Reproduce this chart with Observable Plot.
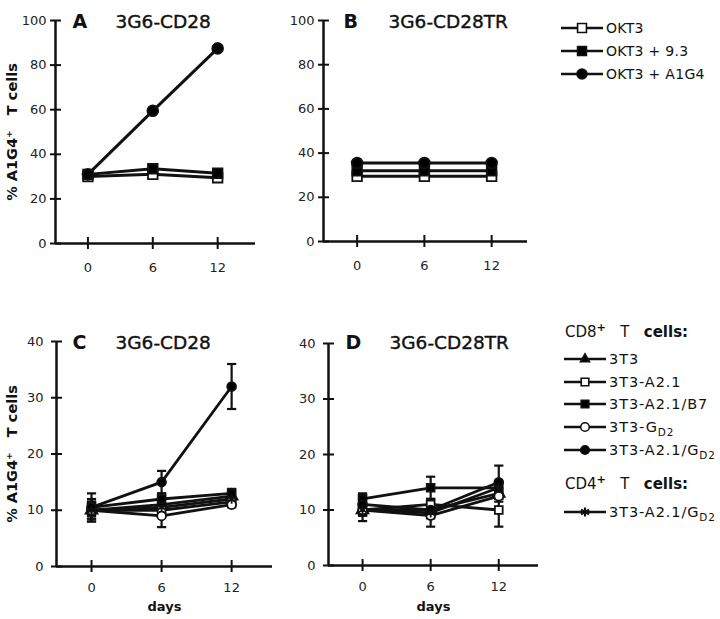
<!DOCTYPE html>
<html><head><meta charset="utf-8">
<script src="https://cdn.jsdelivr.net/npm/d3@7"></script>
<script src="https://cdn.jsdelivr.net/npm/@observablehq/plot@0.6"></script>
<style>
body{margin:0;background:#fff;}
#root{position:relative;width:720px;height:619px;overflow:hidden;font-family:"DejaVu Sans",sans-serif;color:#111;}
.panel{position:absolute;}
.lg{position:absolute;display:flex;align-items:center;white-space:nowrap;color:#111;}
.lg svg{flex:none;}
.lg sub{font-size:0.72em;vertical-align:-0.35em;line-height:0;}
.hd{position:absolute;white-space:nowrap;font-size:15px;color:#111;}
.hd sup{font-size:0.75em;vertical-align:0.55em;line-height:0;font-weight:bold;}
</style></head><body><div id="root"></div>
<script>
// ---------------- data ----------------
const days = [0, 6, 12];
const yticksTop = [0, 20, 40, 60, 80, 100];
const yticksBottom = [0, 10, 20, 30, 40];

const topSeries = ["OKT3", "OKT3 + 9.3", "OKT3 + A1G4"];
const topSymbols = ["square", "square", "circle"];
const topFills = ["white", "black", "black"];
const panelAValues = [[30, 31, 29.5], [31, 33.5, 31.5], [31, 59.5, 87.5]];
const panelBValues = [[29.5, 29.5, 29.5], [32, 32, 32], [35.5, 35.5, 35.5]];

const bottomSeries = ["3T3", "3T3-A2.1", "3T3-A2.1/B7", "3T3-GD2", "3T3-A2.1/GD2", "CD4 3T3-A2.1/GD2"];
const bottomSymbols = ["triangle", "square", "square", "circle", "circle", "asterisk"];
const bottomFills = ["black", "white", "black", "white", "black", "black"];
const panelCValues = [[10, 11, 12.5], [10, 10, 11.5], [10.5, 12, 13], [10, 9, 11], [10.5, 15, 32], [10, 10.5, 12]];
const panelCErrors = [[1.5, 1.5, 0.8], [2, 1, 0.5], [2.5, 1, 0.8], [1.5, 2, 0.5], [1, 2, 4], [1, 1.5, 0.8]];
const panelDValues = [[10, 10, 13], [10, 11, 10], [12, 14, 14], [10, 9, 12.5], [11, 10, 15], [10, 9.5, 14]];
const panelDErrors = [[1, 1, 1], [1, 1, 3], [1, 2, 1], [2, 2, 1], [1, 1, 3], [1, 1, 1]];

const yLabel = "% A1G4\u207A\u00A0\u00A0\u00A0T cells";

// ---------------- helpers ----------------
function toRows(series, values, errors) {
  const out = [];
  series.forEach((s, i) => days.forEach((d, j) => {
    const v = values[i][j];
    const e = errors ? errors[i][j] : 0;
    out.push({series: s, day: d, v, lo: v - e, hi: v + e});
  }));
  return out;
}
const capSymbol = {draw(ctx, size) { const w = Math.sqrt(size / Math.PI); ctx.moveTo(-w, 0); ctx.lineTo(w, 0); }};

function panel(o) {
  const marks = [
    Plot.ruleY([o.ydom[0]], {strokeWidth: 2.5, stroke: "#111"}),
    Plot.ruleX([o.xdom[0]], {y1: o.ydom[0], y2: o.ydom[1], strokeWidth: 2.5, stroke: "#111"}),
    Plot.axisY({ticks: o.yticks, tickSize: 11, dx: 6, fill: "none", stroke: "#111", strokeWidth: 2, label: null}),
    Plot.axisY({ticks: o.yticks, tickSize: 0, tickPadding: o.ytickPad, label: null, fill: "#222", fontSize: 13}),
    Plot.axisX({ticks: days, tickSize: 12, dy: -6, fill: "none", stroke: "#111", strokeWidth: 2, label: null}),
    Plot.axisX({ticks: days, tickSize: 0, tickPadding: o.xtickPad, label: null, fill: "#222", fontSize: 13}),
  ];
  if (o.errors) {
    const er = o.rows.filter(d => d.hi > d.lo);
    marks.push(
      Plot.ruleX(er, {x: "day", y1: "lo", y2: "hi", strokeWidth: 2.2, stroke: "#111"}),
      Plot.dot(er, {x: "day", y: "lo", symbol: capSymbol, r: o.capR, fill: "none", stroke: "#111", strokeWidth: 2.2}),
      Plot.dot(er, {x: "day", y: "hi", symbol: capSymbol, r: o.capR, fill: "none", stroke: "#111", strokeWidth: 2.2})
    );
  }
  marks.push(
    Plot.line(o.rows, {x: "day", y: "v", z: "series", stroke: "#111", strokeWidth: o.lw}),
    Plot.dot(o.rows, {x: "day", y: "v", symbol: "series", fill: "series", stroke: "#111", strokeWidth: 1.8, r: o.r}),
    Plot.text([o.letter], {text: d => d, frameAnchor: "top-left", dx: o.letterDx, dy: o.titleDy, fontSize: 19, fontWeight: "bold", textAnchor: "start", fill: "#111"}),
    Plot.text([o.title], {text: d => d, frameAnchor: "top-left", dx: o.titleDx, dy: o.titleDy, fontSize: 18.5, textAnchor: "start", fill: "#111", stroke: "#111", strokeWidth: 0.4})
  );
  if (o.ylabel) marks.push(Plot.text([o.ylabel], {text: d => d, frameAnchor: "left", textAnchor: "middle", rotate: -90, dx: o.ylabelDx, fontSize: 14.5, fontWeight: "bold", fill: "#111"}));
  if (o.days) marks.push(Plot.text(["days"], {text: d => d, frameAnchor: "bottom", dy: o.daysDy, fontSize: 13, fontWeight: "bold", fill: "#111"}));

  const svg = Plot.plot({
    width: o.width, height: o.height,
    marginTop: o.mt, marginBottom: o.mb, marginLeft: o.ml, marginRight: o.mr,
    x: {domain: o.xdom},
    y: {domain: o.ydom},
    symbol: {domain: o.series, range: o.symbols},
    color: {type: "ordinal", domain: o.series, range: o.fills},
    style: {fontFamily: "DejaVu Sans, sans-serif", fontSize: "13px", color: "#111", background: "transparent", overflow: "visible"},
    marks
  });
  const wrap = document.createElement("div");
  wrap.className = "panel";
  wrap.style.left = o.left + "px";
  wrap.style.top = o.top + "px";
  wrap.appendChild(svg);
  document.getElementById("root").appendChild(wrap);
}

// ---------------- panels ----------------
panel({left: 0, top: 0, width: 262, height: 290, mt: 20, mb: 47, ml: 55, mr: 7,
  xdom: [-3, 15.5], ydom: [0, 100], yticks: yticksTop, ytickPad: 9, xtickPad: 19, lw: 3,
  rows: toRows(topSeries, panelAValues), series: topSeries, symbols: topSymbols, fills: topFills, r: 5.4,
  letter: "A", title: "3G6-CD28", letterDx: 17, titleDx: 60, titleDy: -6, ylabel: yLabel, ylabelDx: -43});

panel({left: 260, top: 0, width: 280, height: 290, mt: 20, mb: 49, ml: 63, mr: 13,
  xdom: [-3, 15.2], ydom: [0, 100], yticks: yticksTop, ytickPad: 9, xtickPad: 19, lw: 3,
  rows: toRows(topSeries, panelBValues), series: topSeries, symbols: topSymbols, fills: topFills, r: 5.4,
  letter: "B", title: "3G6-CD28TR", letterDx: 20, titleDx: 65, titleDy: -6});

panel({left: 0, top: 300, width: 280, height: 319, mt: 41, mb: 53, ml: 56, mr: 8,
  xdom: [-3, 15.5], ydom: [0, 40], yticks: yticksBottom, ytickPad: 13, xtickPad: 16, lw: 2.8,
  rows: toRows(bottomSeries, panelCValues, panelCErrors), errors: true, series: bottomSeries, symbols: bottomSymbols, fills: bottomFills, r: 4.4, capR: 4.6,
  letter: "C", title: "3G6-CD28", letterDx: 16, titleDx: 59, titleDy: -6, ylabel: yLabel, ylabelDx: -44, days: true, daysDy: 44});

panel({left: 260, top: 300, width: 290, height: 319, mt: 43, mb: 54, ml: 68, mr: 12,
  xdom: [-3, 15.5], ydom: [0, 40], yticks: yticksBottom, ytickPad: 13, xtickPad: 16, lw: 2.8,
  rows: toRows(bottomSeries, panelDValues, panelDErrors), errors: true, series: bottomSeries, symbols: bottomSymbols, fills: bottomFills, r: 4.4, capR: 4.6,
  letter: "D", title: "3G6-CD28TR", letterDx: 17, titleDx: 61, titleDy: -8, days: true, daysDy: 45});

// ---------------- legends ----------------
const symMap = {square: d3.symbolSquare, circle: d3.symbolCircle, triangle: d3.symbolTriangle2, asterisk: d3.symbolAsterisk};
function legendRow(x, y, sym, fill, html, r, fontSize, spacing) {
  const div = document.createElement("div");
  div.className = "lg";
  div.style.left = x + "px";
  div.style.top = (y - 9) + "px";
  div.style.height = "18px";
  div.style.fontSize = fontSize + "px";
  div.style.letterSpacing = spacing + "px";
  const w = 42;
  const path = d3.symbol(symMap[sym], r * r * Math.PI)();
  div.innerHTML = `<svg width="${w}" height="18"><line x1="0" x2="${w}" y1="9" y2="9" stroke="#111" stroke-width="2.5"/>` +
    `<path transform="translate(${w / 2},9)" d="${path}" fill="${sym === "asterisk" ? "none" : fill}" stroke="#111" stroke-width="${sym === "asterisk" ? 2.2 : 1.6}"/></svg>` +
    `<span style="margin-left:3px">${html}</span>`;
  document.getElementById("root").appendChild(div);
}
const topLabels = ["OKT3", "OKT3 + 9.3", "OKT3 + A1G4"];
topLabels.forEach((t, i) => legendRow(561, 28 + i * 23, topSymbols[i], topFills[i], t, 5, 14, 0.3));

const bottomLabels = ["3T3", "3T3-A2.1", "3T3-A2.1/B7", "3T3-G<sub>D2</sub>", "3T3-A2.1/G<sub>D2</sub>", "3T3-A2.1/G<sub>D2</sub>"];
const bottomRowsY = [359, 382, 404, 427, 450, 512];
bottomLabels.forEach((t, i) => legendRow(564, bottomRowsY[i], bottomSymbols[i], bottomFills[i], t, 4.3, 14.5, 0.9));

function heading(x, y, cd) {
  const div = document.createElement("div");
  div.className = "hd";
  div.style.left = x + "px";
  div.style.top = (y - 9) + "px";
  div.innerHTML = `${cd}<sup>+</sup>&nbsp;&nbsp;&nbsp;T&nbsp;&nbsp;&nbsp;<b>cells:</b>`;
  document.getElementById("root").appendChild(div);
}
heading(565, 332, "CD8");
heading(565, 484, "CD4");
</script></body></html>
